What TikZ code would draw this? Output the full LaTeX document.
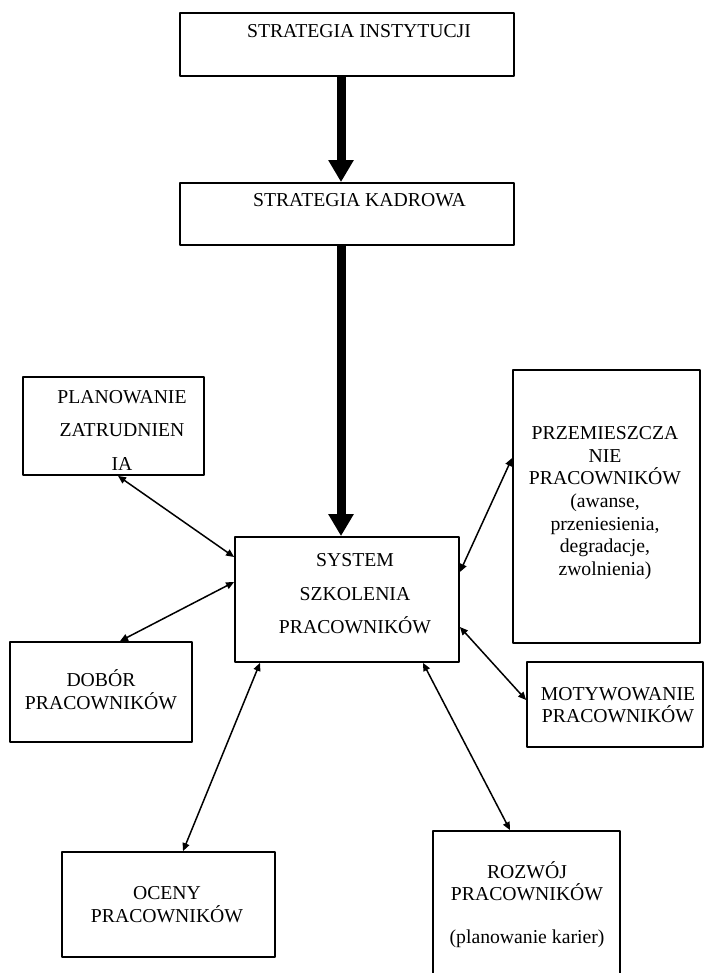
\documentclass[tikz,border=0pt]{standalone}
\usepackage{fontspec}
\setmainfont{Liberation Serif}
\usepackage{tikz}
\usetikzlibrary{arrows.meta}
\tikzset{>={Triangle[width=7pt,length=8pt]}}

\begin{document}
\begin{tikzpicture}[line cap=round,line join=round,x=1pt,y=-1pt,
	box/.style={draw,line width=1.8pt,rectangle,inner sep=0pt},
	txt/.style={align=center,inner sep=0pt,font=\fontsize{19.7}{22.7}\selectfont},
	txtwide/.style={align=center,inner sep=0pt,font=\fontsize{19.7}{33.5}\selectfont},
	fatarrow/.style={line width=9pt,line cap=butt,-{Triangle[width=24pt,length=22pt]}},
	link/.style={line width=1.5pt,<->}]
			\fill[white] (0,0) rectangle (705,973);
			\useasboundingbox (0,0) rectangle (705,973);
			\node[box,minimum width=334pt,minimum height=63pt] (inst) at (347,44.5) {};
			\node[txt,anchor=base] (tinst) at (359,38) {STRATEGIA INSTYTUCJI};
			\node[box,minimum width=334pt,minimum height=62pt] (kadr) at (347,214) {};
			\node[txt,anchor=base] (tkadr) at (359.5,207) {STRATEGIA KADROWA};
			\node[box,minimum width=224pt,minimum height=125pt] (sys) at (347,599.5) {};
			\node[txtwide] (tsys) at (355,594) {SYSTEM\\SZKOLENIA\\PRACOWNIKÓW};
			\node[box,minimum width=181pt,minimum height=98pt] (plan) at (113.5,426) {};
			\node[txtwide] (tplan) at (122,430) {PLANOWANIE\\ZATRUDNIEN\\IA};
			\node[box,minimum width=182pt,minimum height=100pt] (dobor) at (101,692) {};
			\node[txt] (tdobor) at (101,690) {DOBÓR\\PRACOWNIKÓW};
			\node[box,minimum width=187pt,minimum height=273pt] (przem) at (606.5,506.5) {};
			\node[txt] (tprzem) at (605,503) {PRZEMIESZCZA\\NIE\\PRACOWNIKÓW\\(awanse,\\przeniesienia,\\degradacje,\\zwolnienia)};
			\node[box,minimum width=176pt,minimum height=85pt] (motyw) at (615,704.5) {};
			\node[txt] (tmotyw) at (618,705) {MOTYWOWANIE\\PRACOWNIKÓW};
			\node[box,minimum width=213pt,minimum height=105pt] (oceny) at (168.5,904.5) {};
			\node[txt] (toceny) at (167,904.5) {OCENY\\PRACOWNIKÓW};
			\node[box,minimum width=187pt,minimum height=160pt] (rozwoj) at (526.5,911) {};
			\node[txt,font=\fontsize{19.7}{21.7}\selectfont] (trozwoj) at (527,904.5) {ROZWÓJ\\PRACOWNIKÓW\\[21.7pt](planowanie karier)};
			\draw[fatarrow] ([xshift=-6pt]inst.south) -- ([xshift=-6pt]kadr.north);
			\draw[fatarrow] ([xshift=-6pt]kadr.south) -- ([xshift=-6pt]sys.north);
			\draw[link] ([xshift=4.5pt]plan.south) -- ([yshift=42.5pt]sys.west);
			\draw[link] ([xshift=19pt]dobor.north) -- ([yshift=17.5pt]sys.west);
			\draw[link] ([xshift=14.5pt]oceny.north) -- ([xshift=-87pt]sys.south);
			\draw[link] ([xshift=-16.5pt]rozwoj.north) -- ([xshift=76pt]sys.south);
			\draw[link] ([yshift=48.5pt]przem.west) -- ([yshift=27.5pt]sys.east);
			\draw[link] ([yshift=4.5pt]motyw.west) -- ([yshift=-27.5pt]sys.east);
\end{tikzpicture}
\end{document}
